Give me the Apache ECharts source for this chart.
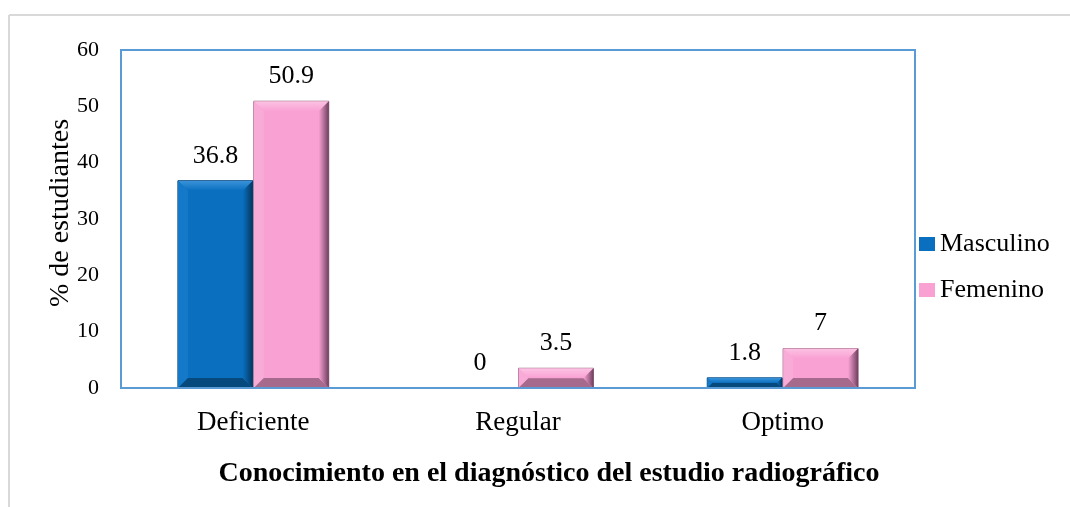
<!DOCTYPE html>
<html><head><meta charset="utf-8">
<script src="https://cdn.jsdelivr.net/npm/echarts@6/dist/echarts.min.js"></script>
<style>html,body{margin:0;padding:0;background:#fff}#c{width:1070px;height:507px}</style>
</head><body><div id="c"></div>
<script>
const categories = ['Deficiente', 'Regular', 'Optimo'];
const masculino = [36.8, 0, 1.8];
const femenino = [50.9, 3.5, 7];
const seriesNames = ['Masculino', 'Femenino'];
const yTicks = [0, 10, 20, 30, 40, 50, 60];
const xTitle = 'Conocimiento en el diagnóstico del estudio radiográfico';
const yTitle = '% de estudiantes';

const FONT = '"Liberation Serif", "Times New Roman", serif';
const palettes = [
  {main: '#0a6fbf', top: '#3b93d9', left: '#1479c8', right: '#05365d', bottom: '#064a7d', edge: '#063f6e'},
  {main: '#f9a1d3', top: '#fcc2e3', left: '#f8abd7', right: '#6f3f5f', bottom: '#a56a8c', edge: '#8a5a76'}
];

function makeRender(sIdx) {
  return function (params, api) {
    const cat = api.value(0), val = api.value(1);
    const catW = api.size([1, 0])[0];
    const bw = catW * 0.283;
    const topPt = api.coord([cat, val]);
    const basePt = api.coord([cat, 0]);
    const cx = topPt[0];
    const x0 = sIdx === 0 ? cx - bw - 0.5 : cx + 0.5;
    const x1 = x0 + bw;
    const y0 = topPt[1], y1 = basePt[1];
    const h = y1 - y0;
    const p = palettes[sIdx];
    const children = [];
    if (h > 0.5) {
      const b = Math.min(10, h / 2, bw / 2);
      children.push(
        {type: 'rect', shape: {x: x0, y: y0, width: bw, height: h}, style: {fill: p.main, stroke: p.edge, lineWidth: 1}},
        {type: 'polygon', shape: {points: [[x0, y0], [x1, y0], [x1 - b, y0 + b], [x0 + b, y0 + b]]},
          style: {fill: new echarts.graphic.LinearGradient(0, 0, 0, 1, [{offset: 0, color: p.top}, {offset: 1, color: p.main}])}},
        {type: 'polygon', shape: {points: [[x0, y0], [x0 + b, y0 + b], [x0 + b, y1 - b], [x0, y1]]}, style: {fill: p.left}},
        {type: 'polygon', shape: {points: [[x0, y1], [x1, y1], [x1 - b, y1 - b], [x0 + b, y1 - b]]}, style: {fill: p.bottom}},
        {type: 'polygon', shape: {points: [[x1, y0], [x1 - b, y0 + b], [x1 - b, y1 - b], [x1, y1]]},
          style: {fill: new echarts.graphic.LinearGradient(0, 0, 1, 0, [{offset: 0, color: p.main}, {offset: 1, color: p.right}])}}
      );
    }
    children.push({type: 'text', style: {x: (x0 + x1) / 2, y: y0 - 12, text: String(val), align: 'center', verticalAlign: 'bottom',
      font: '26px ' + FONT, fill: '#000'}});
    return {type: 'group', children: children};
  };
}

const chart = echarts.init(document.getElementById('c'));
chart.setOption({
  animation: false,
  textStyle: {fontFamily: FONT},
  graphic: [
    {type: 'line', shape: {x1: 9, y1: 15, x2: 1070, y2: 15}, style: {stroke: '#d9d9d9', lineWidth: 2}},
    {type: 'line', shape: {x1: 9, y1: 15, x2: 9, y2: 507}, style: {stroke: '#d9d9d9', lineWidth: 2}},
    {type: 'rect', shape: {x: 121, y: 50, width: 794, height: 338}, style: {fill: 'none', stroke: '#5b9bd5', lineWidth: 2}, z: 100},
    {type: 'text', x: 549, y: 474, style: {text: xTitle,
      align: 'center', verticalAlign: 'middle', font: 'bold 28px ' + FONT, fill: '#000'}},
    {type: 'text', x: 61, y: 213, rotation: Math.PI / 2, style: {text: yTitle,
      align: 'center', verticalAlign: 'middle', font: '28px ' + FONT, fill: '#000'}}
  ],
  grid: {left: 121, top: 50, width: 794, height: 338},
  legend: {
    data: seriesNames, orient: 'vertical', left: 914, top: 226, itemGap: 20,
    itemWidth: 16, itemHeight: 14, icon: 'rect',
    textStyle: {fontFamily: FONT, fontSize: 26, color: '#000'}
  },
  xAxis: {
    type: 'category', data: categories,
    axisLine: {show: false}, axisTick: {show: false},
    axisLabel: {fontFamily: FONT, fontSize: 27, color: '#000', margin: 21}
  },
  yAxis: {
    type: 'value', min: 0, max: 60, interval: 10,
    splitLine: {show: false}, axisLine: {show: false}, axisTick: {show: false},
    axisLabel: {fontFamily: FONT, fontSize: 22, color: '#000', margin: 22,
      formatter: v => yTicks.includes(v) ? String(v) : ''}
  },
  series: [
    {name: seriesNames[0], type: 'custom', renderItem: makeRender(0), encode: {x: 0, y: 1},
     itemStyle: {color: palettes[0].main}, data: categories.map((c, i) => [i, masculino[i]])},
    {name: seriesNames[1], type: 'custom', renderItem: makeRender(1), encode: {x: 0, y: 1},
     itemStyle: {color: palettes[1].main}, data: categories.map((c, i) => [i, femenino[i]])}
  ]
});
</script></body></html>
